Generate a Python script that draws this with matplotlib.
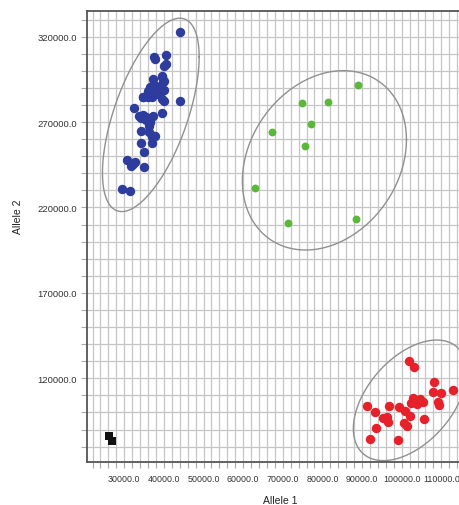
import numpy as np
import matplotlib
matplotlib.use('Agg')
import matplotlib.pyplot as plt
from matplotlib.ticker import FixedLocator, MultipleLocator, FormatStrFormatter

plt.rcParams['font.family'] = ['Liberation Sans', 'DejaVu Sans']

# Cluster data
blue_x = [44100, 37400, 37800, 40500, 40600, 40000, 37300, 39500, 40000, 36400,
          38100, 38800, 40000, 37900, 34700, 36000, 39600, 40000, 44000, 32400,
          39400, 33700, 34700, 37300, 34300, 35600, 36600, 36300, 34100, 36300,
          37400, 36900, 34100, 36900, 34900, 30600, 31800, 32800, 34900, 29400,
          31400, 39400, 39800, 36900, 36000, 39400, 34700, 36900, 34300, 35600,
          36400, 37700, 32200]
blue_y = [322900, 307900, 306900, 309300, 304000, 303000, 295200, 296800, 294200, 290400,
          291300, 289400, 289000, 286500, 284900, 284900, 283500, 282200, 282500, 278400,
          275300, 273400, 274200, 273700, 272200, 271400, 269900, 267900, 264600, 264000,
          262100, 261100, 257800, 257800, 252300, 248000, 244500, 246500, 243500, 230600,
          229800, 296200, 293300, 291300, 288400, 288400, 284500, 284500, 273700, 272800,
          269900, 262100, 245500]

green_x = [89000, 74800, 81300, 77000, 67200, 75600, 62900, 71400, 88500]
green_y = [291500, 281000, 282000, 268700, 264200, 255800, 231400, 210800, 213300]

red_x = [101800, 103100, 108200, 113000, 108000, 109900, 109100, 109400, 104600, 102800,
         103900, 102300, 91300, 96800, 99300, 93300, 100800, 102100, 95200, 96400,
         96600, 105700, 100600, 101300, 93500, 92000, 99000, 105500]
red_y = [130000, 126800, 117700, 113200, 111800, 111200, 105900, 104400, 107900, 108500,
         105000, 105500, 103600, 103600, 103000, 100100, 101000, 97800, 96600, 97200,
         94200, 96200, 93700, 91900, 91100, 84500, 83700, 105900]

black_x = [26200, 26900]
black_y = [86400, 83500]

# Cluster ellipses: centre, half width, half height, correlation
ell_cx = [36700, 80500, 102100]
ell_cy = [274200, 247600, 107100]
ell_hw = [12200, 20700, 14300]
ell_hh = [56600, 52500, 35300]
ell_rho = [0.60, 0.23, 0.47]

x_ticks = [30000, 40000, 50000, 60000, 70000, 80000, 90000, 100000, 110000]
y_ticks = [120000, 170000, 220000, 270000, 320000]

fig = plt.figure(figsize=(4.59, 5.06), dpi=100)
# axes run past the right edge of the picture, like the cropped original
ax = fig.add_axes([87 / 459, 43 / 506, 390 / 459, 451.3 / 506])

ax.set_xlim(20600, 119000)
ax.set_ylim(71000, 335200)

ax.xaxis.set_major_locator(FixedLocator(x_ticks))
ax.xaxis.set_minor_locator(MultipleLocator(2000))
ax.yaxis.set_major_locator(FixedLocator(y_ticks))
ax.yaxis.set_minor_locator(MultipleLocator(10000))
ax.xaxis.set_major_formatter(FormatStrFormatter('%.1f'))
ax.yaxis.set_major_formatter(FormatStrFormatter('%.1f'))

ax.grid(which='both', color='#c6c6c6', linewidth=0.9, zorder=0)
ax.set_axisbelow(True)
ax.tick_params(which='both', direction='out', length=4, width=0.8, color='#aaaaaa',
               labelsize=6.8, labelcolor='#333333', pad=3)
ax.tick_params(axis='x', which='major', pad=5, labelsize=6.4)

for side in ['left', 'bottom', 'top', 'right']:
    ax.spines[side].set_color('#555555')
    ax.spines[side].set_linewidth(1.3)

# ellipses around each cluster
t = np.linspace(0, 2 * np.pi, 300)
for cx, cy, hw, hh, rho in zip(ell_cx, ell_cy, ell_hw, ell_hh, ell_rho):
    ex = cx + hw * np.cos(t)
    ey = cy + hh * (rho * np.cos(t) + np.sqrt(1 - rho ** 2) * np.sin(t))
    ax.plot(ex, ey, color='#909090', linewidth=1.0, zorder=2)

ax.scatter(blue_x, blue_y, s=46, color='#2e3c9e', linewidths=0, zorder=3)
ax.scatter(green_x, green_y, s=32, color='#5cb83a', linewidths=0, zorder=3)
ax.scatter(red_x, red_y, s=46, color='#e8202a', linewidths=0, zorder=3)
ax.scatter(black_x, black_y, s=34, marker='s', color='#111111', linewidths=0, zorder=3)

ax.set_xlabel('Allele 1', fontsize=7.5, color='#222222')
ax.set_ylabel('Allele 2', fontsize=7.5, color='#222222', va='center', ha='center')
ax.xaxis.set_label_coords(0.496, -0.074)
ax.yaxis.set_label_coords(-0.177, 0.545)

plt.savefig('out.png', dpi=100)
